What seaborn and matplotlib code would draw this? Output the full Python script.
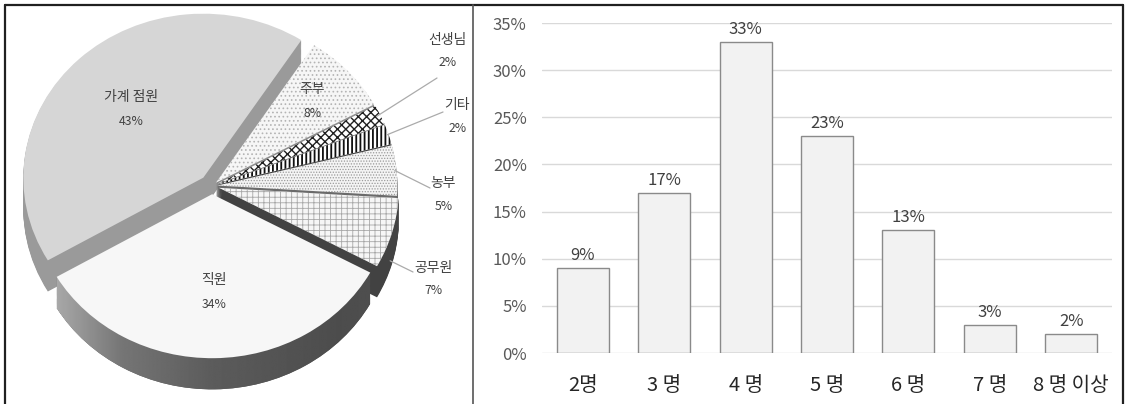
import numpy as np
import pandas as pd
import matplotlib
matplotlib.use("Agg")
import matplotlib.pyplot as plt
from matplotlib.lines import Line2D
from matplotlib.patches import PathPatch
from matplotlib.path import Path
import seaborn as sns

# ---- data -------------------------------------------------------------
jobs = ["주부", "선생님", "기타", "농부", "공무원", "직원", "가계 점원"]
job_shares = [8, 2, 2, 5, 7, 34, 43]

household = ["2명", "3 명", "4 명", "5 명", "6 명", "7 명", "8 명 이상"]
household_shares = [9, 17, 33, 23, 13, 3, 2]

y_ticks = [0, 5, 10, 15, 20, 25, 30, 35]

# ---- style ------------------------------------------------------------
sns.set_style("white")
plt.rcParams["font.family"] = ["Noto Sans CJK KR", "DejaVu Sans"]
plt.rcParams["hatch.linewidth"] = 0.8

W, H = 1125, 404
fig = plt.figure(figsize=(W / 100, H / 100), dpi=100)
fig.patch.set_facecolor("white")

top_colors = ["#f6f6f6", "#ffffff", "#ffffff", "#f4f4f4", "#f6f6f6", "#f7f7f7", "#d6d6d6"]
hatches = ["....", "xxxx", "||||", "......", "+++", None, None]
hatch_colors = ["#b4b4b4", "#202020", "#101010", "#9a9a9a", "#a8a8a8", "#f7f7f7", "#d6d6d6"]
hatch_widths = [0.7, 1.0, 1.3, 0.6, 0.6, 0.8, 0.8]
side_colors = ["#8c8c8c", "#5a5a5a", "#3c3c3c", "#6a6a6a", "#424242", "#5c5c5c", "#9a9a9a"]
explode = [0.03, 0.03, 0.03, 0.03, 0.04, 0.05, 0.07]
start = 57
depth = 0.19
n_layers = 28
text_color = "#404040"

# pie placement inside its panel (pixels)
cx_px, cy_px, rx_px, ry_px = 212, 186, 180, 164

# ---- 3D pie -----------------------------------------------------------
ax1 = fig.add_axes([0, 0, 474 / W, 1])
side_main = []
for k in range(n_layers, 0, -1):
    dy = -depth * k / n_layers
    wedges, _ = ax1.pie(job_shares, explode=explode, startangle=start,
                        counterclock=False, center=(0, dy), colors=side_colors,
                        wedgeprops=dict(linewidth=0), frame=True)
    for w in wedges:
        w.set_zorder(1)
    side_main.append(wedges[5])

# shading across the front rim
rim = Path.make_compound_path(*[w.get_path() for w in side_main])
rim_patch = PathPatch(rim, transform=ax1.transData, facecolor="none", edgecolor="none")
gx = np.linspace(-1.2, 1.2, 400)
shade = np.interp(gx, [-1.2, -0.9, -0.5, 0.0, 0.7, 1.2], [0.75, 0.68, 0.46, 0.36, 0.30, 0.32])
img = ax1.imshow(np.tile(shade, (2, 1)), extent=(-1.2, 1.2, -1.4, 0.3), cmap="gray",
                 vmin=0, vmax=1, aspect="auto", zorder=1.5, interpolation="bilinear")
img.set_clip_path(rim_patch)

tops, _ = ax1.pie(job_shares, explode=explode, startangle=start, counterclock=False,
                  colors=top_colors, wedgeprops=dict(linewidth=0), frame=True)
for w, h, hc, hw in zip(tops, hatches, hatch_colors, hatch_widths):
    w.set_zorder(2)
    w.set_edgecolor(hc)
    w.set_linewidth(0)
    if h:
        w.set_hatch(h)
        if hasattr(w, "set_hatch_linewidth"):
            w.set_hatch_linewidth(hw)


def wedge_point(i, r):
    w = tops[i]
    mid = np.deg2rad((w.theta1 + w.theta2) / 2)
    cx, cy = w.center
    return cx + r * np.cos(mid), cy + r * np.sin(mid)


def px_to_data(px, py):
    return (px - cx_px) / rx_px, (cy_px - py) / ry_px


# labels inside the large wedges
inside = {0: 0.73, 5: 0.60, 6: 0.58}
for i, r in inside.items():
    x, y = wedge_point(i, r)
    ax1.text(x, y + 0.075, jobs[i], ha="center", va="center", fontsize=10,
             color=text_color, zorder=4)
    ax1.text(x, y - 0.075, f"{job_shares[i]}%", ha="center", va="center",
             fontsize=8.8, color=text_color, zorder=4)

# labels outside the small wedges, with leader lines (pixel anchors in the panel)
outside = {
    1: ((447, 40), (437, 78), 0.98),
    2: ((457, 105), (443, 112), 0.99),
    3: ((443, 183), (430, 188), 0.99),
    4: ((433, 268), (413, 272), 0.99),
}
for i, (tpos, lpos, r) in outside.items():
    tx, ty = px_to_data(*tpos)
    lx, ly = px_to_data(*lpos)
    px, py = wedge_point(i, r)
    if i == 4:
        py -= depth * 0.9
    ax1.plot([px, lx], [py, ly], color="#ababab", lw=0.9, zorder=3)
    ax1.text(tx, ty, jobs[i], ha="center", va="center", fontsize=10,
             color=text_color, zorder=4)
    ax1.text(tx + 0.005, ty - 23 / ry_px, f"{job_shares[i]}%", ha="center",
             va="center", fontsize=8.8, color=text_color, zorder=4)

ax1.set_xlim(-cx_px / rx_px, (474 - cx_px) / rx_px)
ax1.set_ylim(-(H - cy_px) / ry_px, cy_px / ry_px)
ax1.set_aspect("auto")
ax1.axis("off")

# ---- bar chart --------------------------------------------------------
ax2 = fig.add_axes([542 / W, 1 - 353 / H, (1112 - 542) / W, (353 - 23) / H])
df = pd.DataFrame({"household": household, "share": household_shares})
sns.barplot(data=df, x="household", y="share", ax=ax2, color="#f2f2f2",
            saturation=1, edgecolor="#8a8a8a", linewidth=1.0, width=0.64, zorder=2)
ax2.set_ylim(0, 35)
ax2.set_xlim(-0.5, len(household) - 0.5)
ax2.set_yticks(y_ticks)
ax2.set_yticklabels([f"{t}%" for t in y_ticks])
ax2.yaxis.grid(True, color="#d9d9d9", lw=1.0, zorder=0)
ax2.xaxis.grid(False)
for s in ax2.spines.values():
    s.set_visible(False)
ax2.set_xlabel("")
ax2.set_ylabel("")
ax2.tick_params(axis="y", length=0, pad=11, labelsize=12, labelcolor="#595959")
ax2.tick_params(axis="x", length=0, pad=16, labelsize=14.5, labelcolor="#262626")
ax2.bar_label(ax2.containers[0], labels=[f"{v}%" for v in household_shares],
              padding=3, fontsize=12, color=text_color)
ax2.set_facecolor("none")

# ---- frame ------------------------------------------------------------
def fline(x0, y0, x1, y1, color="black", lw=1.6):
    fig.add_artist(Line2D([x0 / W, x1 / W], [1 - y0 / H, 1 - y1 / H],
                          transform=fig.transFigure, color=color, lw=lw))


fline(5, 5, 1123, 5, color="#202020")
fline(5, 5, 5, 404, color="#202020")
fline(1123, 5, 1123, 404, color="#202020")
fline(473, 5, 473, 404, color="#555555", lw=1.2)

fig.savefig("out.png", dpi=100, facecolor="white")
